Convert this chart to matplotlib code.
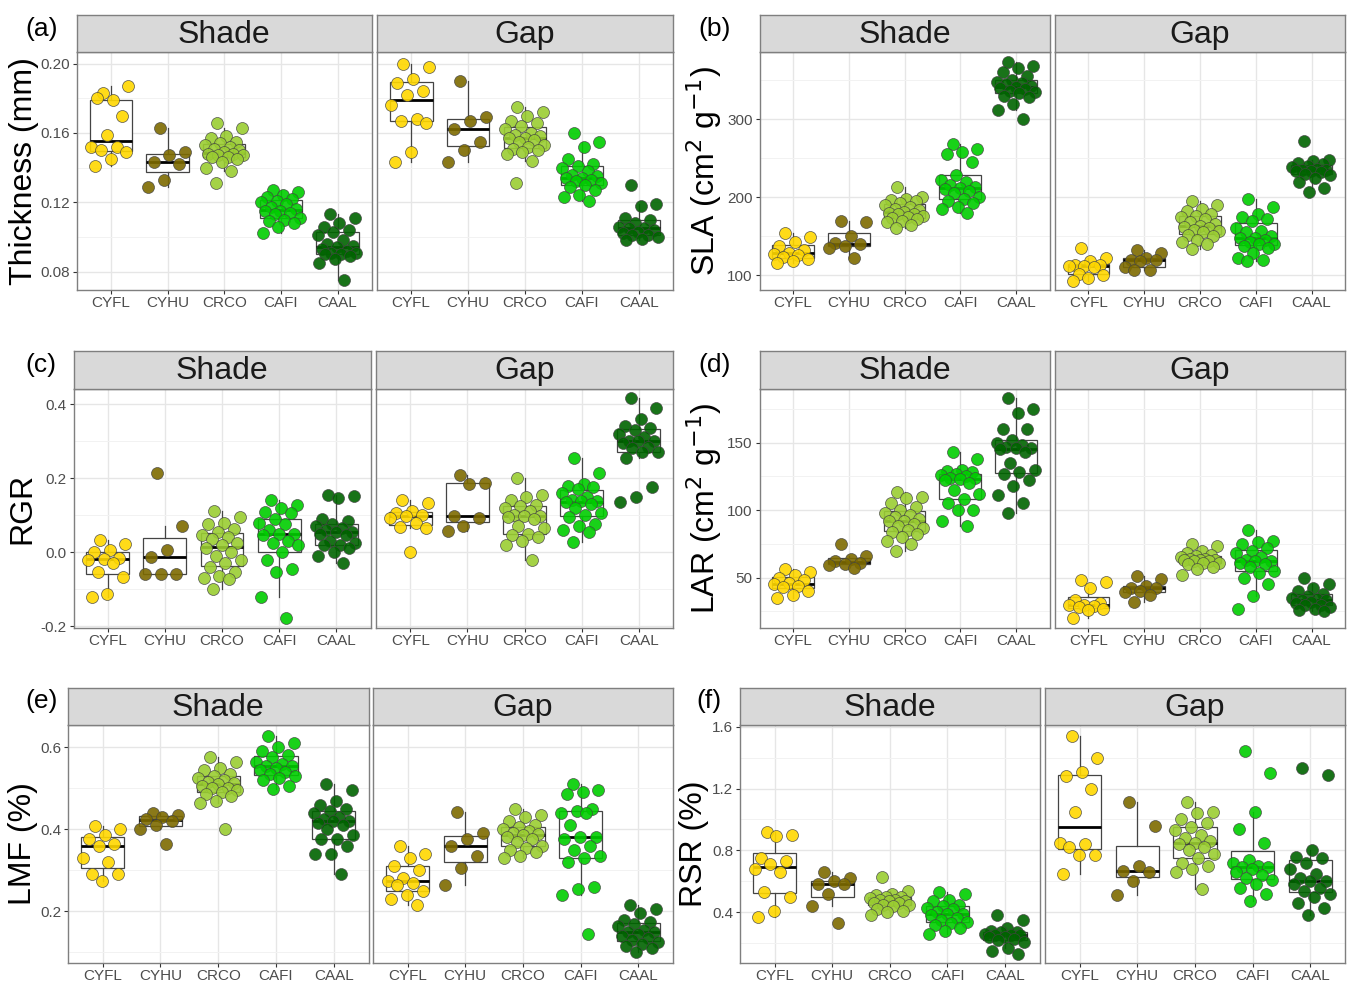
import matplotlib.pyplot as plt
import numpy as np

plt.rcParams['font.family'] = ['Liberation Sans', 'DejaVu Sans']
plt.rcParams['axes.unicode_minus'] = False

species = ['CYFL', 'CYHU', 'CRCO', 'CAFI', 'CAAL']
facets = ['Shade', 'Gap']
colors = ['#FFD700', '#7D6A00', '#9ACD32', '#00CD00', '#006400']

# ---- data (one list per species) ----
thick_shade = [
    [0.183, 0.187, 0.179, 0.180, 0.170, 0.159, 0.152, 0.152, 0.150, 0.149, 0.145, 0.141],
    [0.163, 0.149, 0.147, 0.143, 0.142, 0.133, 0.129],
    [0.166, 0.163, 0.158, 0.157, 0.155, 0.154, 0.153, 0.152, 0.151, 0.150, 0.149,
     0.148, 0.148, 0.147, 0.147, 0.146, 0.146, 0.145, 0.143, 0.140, 0.138, 0.131],
    [0.127, 0.126, 0.124, 0.123, 0.122, 0.121, 0.120, 0.119, 0.117, 0.116, 0.115,
     0.115, 0.114, 0.113, 0.111, 0.110, 0.109, 0.108, 0.106, 0.102],
    [0.113, 0.111, 0.108, 0.106, 0.104, 0.103, 0.101, 0.098, 0.096, 0.095, 0.094,
     0.093, 0.092, 0.091, 0.091, 0.090, 0.090, 0.089, 0.087, 0.085, 0.075],
]
thick_gap = [
    [0.200, 0.198, 0.191, 0.189, 0.184, 0.182, 0.176, 0.168, 0.167, 0.166, 0.149, 0.143],
    [0.190, 0.169, 0.167, 0.162, 0.155, 0.150, 0.143],
    [0.175, 0.172, 0.170, 0.167, 0.166, 0.164, 0.162, 0.160, 0.159, 0.158, 0.157,
     0.157, 0.156, 0.155, 0.153, 0.152, 0.151, 0.150, 0.149, 0.148, 0.144, 0.131],
    [0.160, 0.155, 0.152, 0.145, 0.142, 0.141, 0.140, 0.138, 0.136, 0.135, 0.134,
     0.134, 0.133, 0.132, 0.131, 0.130, 0.129, 0.127, 0.124, 0.123, 0.121],
    [0.130, 0.119, 0.118, 0.111, 0.110, 0.108, 0.106, 0.105, 0.105, 0.104, 0.103,
     0.102, 0.101, 0.101, 0.100, 0.099, 0.098],
]
sla_shade = [
    [154, 149, 142, 138, 132, 129, 127, 126, 123, 121, 118, 115],
    [170, 168, 150, 141, 140, 138, 135, 122],
    [213, 200, 198, 196, 195, 192, 190, 188, 185, 183, 181, 180, 179, 178, 176,
     175, 173, 172, 170, 168, 164, 160],
    [268, 262, 258, 255, 245, 228, 222, 220, 215, 213, 212, 210, 208, 205, 200,
     198, 195, 192, 188, 185, 180],
    [373, 368, 365, 360, 355, 350, 348, 346, 345, 343, 341, 340, 338, 336, 335,
     333, 330, 328, 320, 312, 300],
]
sla_gap = [
    [135, 122, 118, 113, 113, 112, 112, 110, 102, 100, 97, 93],
    [132, 128, 122, 120, 120, 118, 110, 107, 106],
    [195, 190, 185, 182, 178, 176, 175, 172, 168, 165, 163, 162, 160, 158, 156,
     155, 152, 150, 145, 142, 140, 133],
    [197, 188, 178, 175, 172, 170, 160, 157, 155, 150, 148, 147, 145, 143, 140,
     140, 138, 135, 128, 122, 120, 118],
    [272, 248, 246, 244, 243, 240, 238, 236, 235, 235, 234, 233, 232, 230, 229,
     225, 220, 212, 206],
]
rgr_shade = [
    [0.033, 0.022, 0.005, 0.0, -0.015, -0.018, -0.02, -0.03, -0.055, -0.068, -0.113, -0.12],
    [0.215, 0.07, 0.005, -0.012, -0.058, -0.058, -0.058],
    [0.112, 0.095, 0.08, 0.075, 0.062, 0.055, 0.045, 0.04, 0.035, 0.025, 0.02,
     0.01, 0.0, -0.01, -0.02, -0.03, -0.04, -0.055, -0.065, -0.07, -0.072, -0.1],
    [0.14, 0.128, 0.12, 0.108, 0.105, 0.09, 0.08, 0.075, 0.06, 0.05, 0.048,
     0.045, 0.03, 0.025, 0.02, 0.0, -0.02, -0.045, -0.055, -0.12, -0.178],
    [0.155, 0.152, 0.145, 0.09, 0.085, 0.075, 0.07, 0.065, 0.06, 0.055, 0.055,
     0.05, 0.045, 0.03, 0.025, 0.02, 0.02, 0.01, 0.0, -0.01, -0.03],
]
rgr_gap = [
    [0.14, 0.132, 0.11, 0.105, 0.1, 0.097, 0.092, 0.078, 0.068, 0.065, 0.0],
    [0.207, 0.187, 0.185, 0.097, 0.092, 0.07, 0.058],
    [0.2, 0.155, 0.148, 0.14, 0.128, 0.125, 0.12, 0.11, 0.1, 0.098, 0.097,
     0.095, 0.09, 0.07, 0.065, 0.05, 0.045, 0.04, 0.03, 0.02, -0.02],
    [0.255, 0.215, 0.185, 0.178, 0.175, 0.17, 0.16, 0.15, 0.14, 0.138, 0.138,
     0.135, 0.13, 0.12, 0.105, 0.1, 0.095, 0.075, 0.07, 0.06, 0.055, 0.028],
    [0.415, 0.39, 0.36, 0.34, 0.335, 0.33, 0.32, 0.31, 0.30, 0.30, 0.30, 0.295,
     0.285, 0.28, 0.27, 0.27, 0.255, 0.175, 0.15, 0.135],
]
lar_shade = [
    [56, 54, 52, 50, 48, 46, 45, 44, 43, 40, 37, 35],
    [75, 66, 64, 62, 61, 60, 59, 57],
    [113, 110, 109, 105, 102, 100, 98, 96, 95, 93, 92, 92, 90, 88, 87, 85, 84,
     82, 80, 77, 75, 70],
    [143, 138, 130, 129, 128, 127, 126, 125, 124, 124, 123, 122, 120, 115, 112,
     108, 105, 100, 100, 92, 88],
    [183, 175, 172, 160, 160, 152, 150, 148, 147, 146, 146, 145, 143, 135, 130,
     128, 127, 122, 118, 111, 105, 98],
]
lar_gap = [
    [48, 47, 42, 33, 31, 30, 30, 29, 28, 27, 26, 20],
    [51, 49, 44, 42, 42, 40, 39, 37, 32],
    [75, 73, 70, 68, 67, 66, 65, 64, 64, 63, 63, 63, 62, 62, 61, 61, 60, 58, 56, 52],
    [85, 77, 76, 75, 72, 70, 68, 65, 63, 62, 62, 61, 60, 58, 55, 53, 50, 45, 36, 27],
    [50, 45, 42, 40, 38, 36, 35, 34, 33, 33, 32, 31, 30, 30, 28, 27, 26, 25],
]
lmf_shade = [
    [0.408, 0.40, 0.385, 0.375, 0.365, 0.36, 0.33, 0.32, 0.29, 0.29, 0.275],
    [0.44, 0.435, 0.43, 0.425, 0.42, 0.41, 0.40, 0.365],
    [0.575, 0.565, 0.55, 0.545, 0.535, 0.53, 0.525, 0.52, 0.515, 0.513, 0.51,
     0.505, 0.50, 0.50, 0.495, 0.49, 0.485, 0.48, 0.47, 0.465, 0.40],
    [0.627, 0.61, 0.6, 0.59, 0.58, 0.575, 0.565, 0.56, 0.555, 0.553, 0.55,
     0.545, 0.54, 0.535, 0.53, 0.525, 0.52, 0.505, 0.497],
    [0.51, 0.495, 0.47, 0.46, 0.45, 0.445, 0.44, 0.43, 0.425, 0.42, 0.42, 0.415,
     0.41, 0.40, 0.385, 0.375, 0.375, 0.36, 0.34, 0.34, 0.29],
]
lmf_gap = [
    [0.36, 0.34, 0.33, 0.31, 0.30, 0.28, 0.275, 0.27, 0.265, 0.25, 0.24, 0.23, 0.215],
    [0.442, 0.392, 0.375, 0.36, 0.335, 0.305, 0.265],
    [0.45, 0.435, 0.43, 0.42, 0.41, 0.405, 0.40, 0.395, 0.39, 0.388, 0.386,
     0.38, 0.375, 0.37, 0.36, 0.355, 0.35, 0.345, 0.335, 0.33],
    [0.51, 0.495, 0.49, 0.485, 0.45, 0.445, 0.44, 0.44, 0.41, 0.38, 0.38, 0.375,
     0.36, 0.35, 0.335, 0.33, 0.32, 0.26, 0.255, 0.24, 0.145],
    [0.215, 0.205, 0.195, 0.18, 0.175, 0.17, 0.165, 0.155, 0.15, 0.15, 0.145,
     0.14, 0.135, 0.13, 0.125, 0.12, 0.115, 0.11, 0.1],
]
rsr_shade = [
    [0.92, 0.90, 0.89, 0.75, 0.73, 0.71, 0.68, 0.66, 0.53, 0.50, 0.41, 0.37],
    [0.66, 0.62, 0.60, 0.58, 0.58, 0.52, 0.44, 0.33],
    [0.63, 0.54, 0.52, 0.51, 0.50, 0.50, 0.49, 0.48, 0.48, 0.47, 0.47, 0.46,
     0.46, 0.45, 0.45, 0.44, 0.42, 0.41, 0.40, 0.38],
    [0.53, 0.52, 0.48, 0.47, 0.45, 0.44, 0.43, 0.42, 0.40, 0.39, 0.39, 0.38,
     0.36, 0.35, 0.34, 0.33, 0.32, 0.30, 0.28, 0.26],
    [0.38, 0.35, 0.30, 0.28, 0.27, 0.27, 0.26, 0.25, 0.25, 0.25, 0.24, 0.24,
     0.23, 0.22, 0.21, 0.17, 0.15, 0.13],
]
rsr_gap = [
    [1.54, 1.40, 1.31, 1.28, 1.20, 1.05, 0.85, 0.84, 0.82, 0.77, 0.77, 0.65],
    [1.11, 0.96, 0.70, 0.67, 0.66, 0.60, 0.51],
    [1.11, 1.05, 1.04, 1.0, 0.98, 0.95, 0.93, 0.90, 0.88, 0.86, 0.85, 0.84,
     0.82, 0.80, 0.78, 0.75, 0.72, 0.70, 0.68, 0.66, 0.55],
    [1.44, 1.30, 1.05, 0.94, 0.85, 0.74, 0.72, 0.70, 0.69, 0.69, 0.68, 0.66,
     0.64, 0.62, 0.61, 0.58, 0.56, 0.52, 0.47],
    [1.33, 1.29, 0.80, 0.76, 0.75, 0.72, 0.68, 0.65, 0.62, 0.60, 0.60, 0.58,
     0.56, 0.54, 0.52, 0.50, 0.46, 0.43, 0.38],
]

W, H = 1347, 983
fig = plt.figure(figsize=(W / 100, H / 100), dpi=100)


def px_axes(x0, y0, x1, y1):
    return fig.add_axes([x0 / W, 1 - y1 / H, (x1 - x0) / W, (y1 - y0) / H])


def jitter(n):
    # fixed spread for the points (no randomness)
    return ((np.arange(n) * 0.618034 + 0.31) % 1.0 - 0.5) * 0.72


def draw_facet(ax, groups, ylim, major, minor, fmt, show_y):
    pos = np.arange(1, len(species) + 1)
    ax.boxplot(groups, positions=pos, widths=0.75, showfliers=False,
               showcaps=False, patch_artist=True,
               boxprops=dict(facecolor='white', edgecolor='#444444', linewidth=0.9),
               medianprops=dict(color='black', linewidth=2.0),
               whiskerprops=dict(color='#444444', linewidth=0.9),
               zorder=2)
    for i, (vals, c) in enumerate(zip(groups, colors)):
        ax.scatter(pos[i] + jitter(len(vals)), vals, s=74, color=c, alpha=0.9,
                   edgecolor='#444444', linewidth=0.5, zorder=3)
    ax.set_xlim(0.4, 5.6)
    ax.set_ylim(*ylim)
    ax.set_xticks(pos)
    ax.set_xticklabels(species)
    ax.set_yticks(major)
    ax.set_yticks(minor, minor=True)
    ax.set_yticklabels([fmt.format(v) for v in major])
    ax.grid(which='major', color='#E6E6E6', linewidth=1.0)
    ax.grid(which='minor', axis='y', color='#F2F2F2', linewidth=0.7)
    ax.set_axisbelow(True)
    ax.tick_params(axis='both', which='major', labelsize=11, colors='#333333',
                   labelcolor='#4D4D4D', length=3, width=0.8, pad=2)
    ax.tick_params(axis='x', which='major', pad=1.5)
    ax.tick_params(axis='y', which='minor', length=0)
    if not show_y:
        ax.tick_params(axis='y', which='both', length=0, labelleft=False)
    for s in ax.spines.values():
        s.set_color('#7F7F7F')
        s.set_linewidth(1.0)


def draw_strip(x0, x1, y0, y1, name):
    sa = px_axes(x0, y0, x1, y1)
    sa.set_facecolor('#D9D9D9')
    sa.set_xticks([])
    sa.set_yticks([])
    for s in sa.spines.values():
        s.set_color('#7F7F7F')
        s.set_linewidth(1.0)
    sa.text(0.5, 0.46, name, ha='center', va='center', fontsize=23,
            color='#1A1A1A', transform=sa.transAxes)


rows = [(15, 52, 290), (351, 388.5, 628), (688, 725, 963)]

panels = [
    # tag, shade, gap, row, shade x, gap x, ylim, major, minor, fmt, ylabel, ylabel x, tag pos
    ('(a)', thick_shade, thick_gap, 0, (77, 371.5), (377, 673), (0.0694, 0.2067),
     [0.08, 0.12, 0.16, 0.20], [0.10, 0.14, 0.18], '{:.2f}', 'Thickness (mm)', 24, (42, 29)),
    ('(b)', sla_shade, sla_gap, 0, (759.5, 1049.5), (1055, 1345), (81, 386),
     [100, 200, 300], [150, 250, 350], '{:.0f}', 'SLA (cm$^{2}$ g$^{-1}$)', 704, (715, 29)),
    ('(c)', rgr_shade, rgr_gap, 1, (73.5, 370.5), (376, 673), (-0.205, 0.442),
     [-0.2, 0.0, 0.2, 0.4], [-0.1, 0.1, 0.3], '{:.1f}', 'RGR', 22, (41, 365)),
    ('(d)', lar_shade, lar_gap, 1, (759.5, 1049.5), (1055, 1345), (12.6, 190),
     [50, 100, 150], [25, 75, 125, 175], '{:.0f}', 'LAR (cm$^{2}$ g$^{-1}$)', 704, (715, 365)),
    ('(e)', lmf_shade, lmf_gap, 2, (68, 368.5), (373, 673), (0.074, 0.654),
     [0.2, 0.4, 0.6], [0.1, 0.3, 0.5], '{:.1f}', 'LMF (%)', 23, (42, 701)),
    ('(f)', rsr_shade, rsr_gap, 2, (740, 1039.5), (1045, 1345), (0.072, 1.611),
     [0.4, 0.8, 1.2, 1.6], [0.2, 0.6, 1.0, 1.4], '{:.1f}', 'RSR (%)', 694, (709, 701)),
]

for tag, shade, gap, r, xs, xg, ylim, major, minor, fmt, ylab, ylx, tpos in panels:
    top, ptop, pbot = rows[r]
    for (x0, x1), groups, name, show_y in [(xs, shade, 'Shade', True), (xg, gap, 'Gap', False)]:
        ax = px_axes(x0, ptop, x1, pbot)
        draw_facet(ax, groups, ylim, major, minor, fmt, show_y)
        draw_strip(x0, x1, top, ptop, name)
    fig.text(ylx / W, 1 - (ptop + pbot) / 2 / H, ylab, rotation=90, ha='center',
             va='center', fontsize=23, color='black')
    fig.text(tpos[0] / W, 1 - tpos[1] / H, tag, ha='center', va='center',
             fontsize=19, color='black')

fig.savefig('out.png', dpi=100, facecolor='white')
